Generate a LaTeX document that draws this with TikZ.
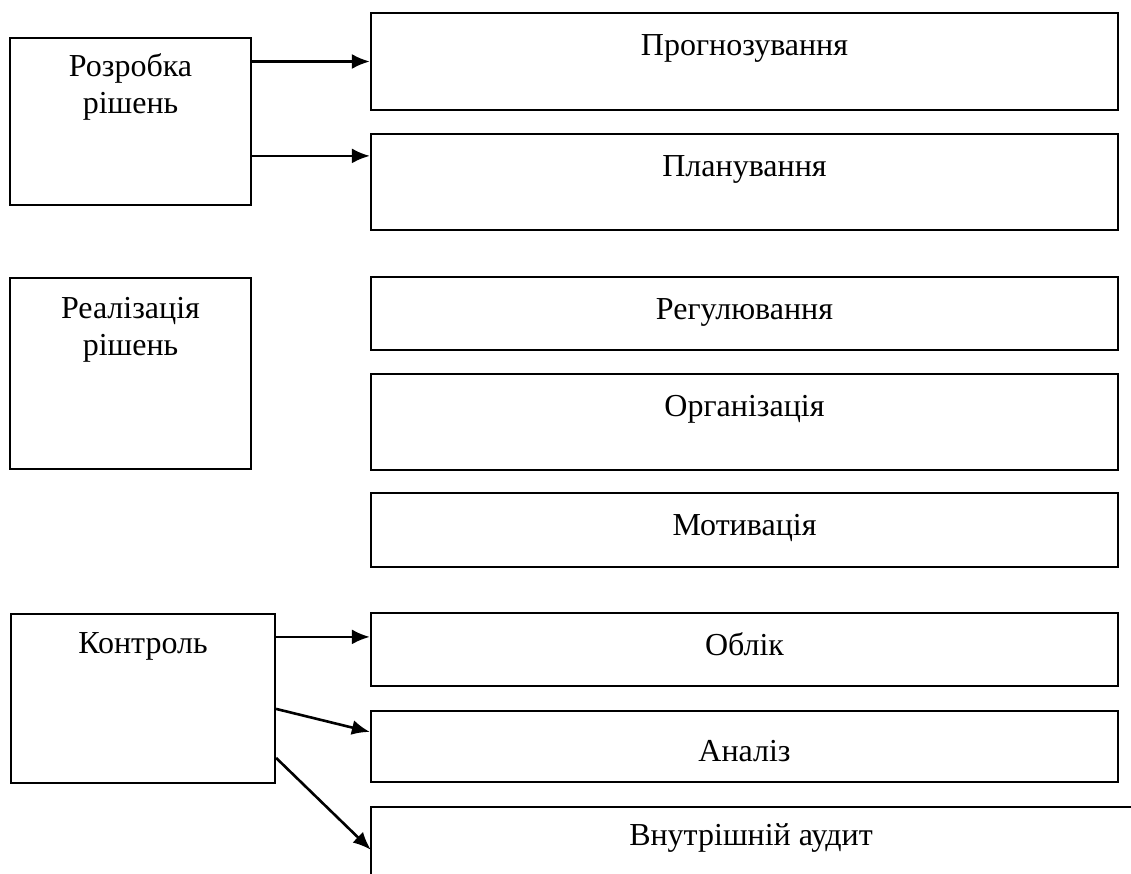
\documentclass[tikz,border=0pt]{standalone}
\usepackage{fontspec}
\setmainfont{Liberation Serif}
\usetikzlibrary{arrows.meta}
\tikzstyle{orientedarc}=[-{Latex[length=18pt,width=15pt]},line width=2.6pt]
\tikzstyle{stageelement}=[draw,line width=2.2pt,minimum width=241pt,inner sep=0pt]
\tikzstyle{functionelement}=[draw,line width=2.2pt,minimum width=747pt,inner sep=0pt]
\tikzstyle{elementlabel}=[anchor=base,align=center,inner sep=0pt,font=\fontsize{32pt}{37pt}\selectfont]
\tikzstyle{justbelow}=[shift={(0pt,-44pt)}]

\begin{document}
\begin{tikzpicture}

\useasboundingbox (0pt,0pt) rectangle (1131pt,-874pt);

\node[stageelement,minimum height=167pt] (S1) at (130.5pt,-121.5pt) {};
\node[stageelement,minimum height=191pt] (S2) at (130.5pt,-373.5pt) {};
\node[stageelement,minimum width=264pt,minimum height=169pt] (S3) at (143pt,-698.5pt) {};

\node[functionelement,minimum height=97pt] (F1) at (744.5pt,-61.5pt) {};
\node[functionelement,minimum height=96pt] (F2) at (744.5pt,-182pt) {};
\node[functionelement,minimum height=73pt] (F3) at (744.5pt,-313.5pt) {};
\node[functionelement,minimum height=96pt] (F4) at (744.5pt,-422pt) {};
\node[functionelement,minimum height=74pt] (F5) at (744.5pt,-530pt) {};
\node[functionelement,minimum height=73pt] (F6) at (744.5pt,-649.5pt) {};
\node[functionelement,minimum height=71pt] (F7) at (744.5pt,-746.5pt) {};
\node[inner sep=0pt,minimum width=760pt,minimum height=100pt] (F8) at (751pt,-857pt) {};
\draw[line width=2.2pt] (F8.south west) -- (F8.north west) -- (F8.north east);

% last line of a two-line label sits on the base anchor
\node[elementlabel] (L1) at ([shift={(0pt,-77pt)}]S1.north) {Розробка\\рішень};
\node[elementlabel] (L2) at ([shift={(0pt,-79pt)}]S2.north) {Реалізація\\рішень};
\node[elementlabel] (L3) at ([shift={(0pt,-41pt)}]S3.north) {Контроль};

\node[elementlabel] (M1) at ([justbelow]F1.north) {Прогнозування};
\node[elementlabel] (M2) at ([justbelow]F2.north) {Планування};
\node[elementlabel] (M3) at ([justbelow]F3.north) {Регулювання};
\node[elementlabel] (M4) at ([justbelow]F4.north) {Організація};
\node[elementlabel] (M5) at ([justbelow]F5.north) {Мотивація};
\node[elementlabel] (M6) at ([justbelow]F6.north) {Облік};
\node[elementlabel] (M7) at ([shift={(0pt,-52pt)}]F7.north) {Аналіз};
\node[elementlabel] (M8) at ([shift={(0pt,-39pt)}]F8.north) {Внутрішній аудит};

\coordinate (F2W) at ([shift={(0pt,-23pt)}]F2.north west);
\coordinate (F6W) at ([shift={(0pt,-25pt)}]F6.north west);
\coordinate (F7W) at ([shift={(0pt,-22pt)}]F7.north west);
\coordinate (F8W) at ([shift={(0pt,-43pt)}]F8.north west);
\coordinate (S3E1) at ([shift={(0pt,-96pt)}]S3.north east);
\coordinate (S3E2) at ([shift={(0pt,-145pt)}]S3.north east);

\draw[orientedarc] (S1.east |- F1.west) -- (F1.west);
\draw[orientedarc] (S1.east |- F2W) -- (F2W);

\draw[orientedarc] (S3.east |- F6W) -- (F6W);
\draw[orientedarc] (S3E1) -- (F7W);
\draw[orientedarc] (S3E2) -- (F8W);

\end{tikzpicture}
\end{document}
